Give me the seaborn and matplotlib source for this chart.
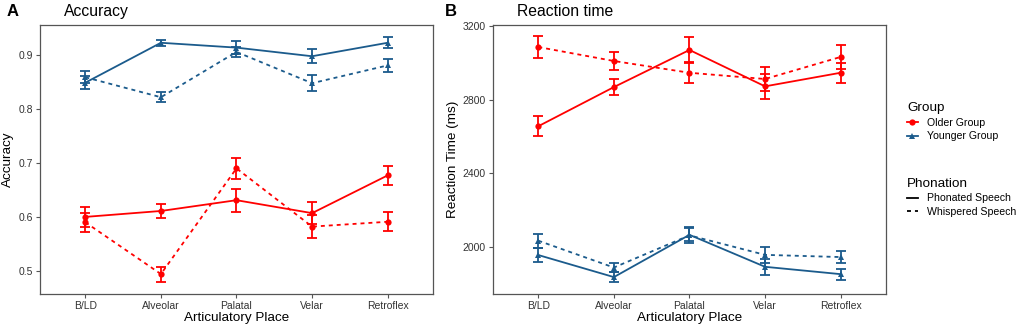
import numpy as np
import pandas as pd
import matplotlib
matplotlib.use("Agg")
import matplotlib.pyplot as plt
from matplotlib.lines import Line2D
import seaborn as sns

# Data
places = ["B/LD", "Alveolar", "Palatal", "Velar", "Retroflex"]
groups = ["Older Group", "Younger Group"]
phonations = ["Phonated Speech", "Whispered Speech"]

# Accuracy (mean, error)
acc_old_phon = [0.600, 0.611, 0.631, 0.607, 0.677]
acc_old_phon_err = [0.018, 0.013, 0.021, 0.021, 0.018]
acc_old_whis = [0.590, 0.494, 0.690, 0.582, 0.591]
acc_old_whis_err = [0.018, 0.014, 0.020, 0.021, 0.018]
acc_young_phon = [0.849, 0.923, 0.914, 0.898, 0.923]
acc_young_phon_err = [0.012, 0.006, 0.012, 0.013, 0.010]
acc_young_whis = [0.859, 0.822, 0.906, 0.848, 0.881]
acc_young_whis_err = [0.011, 0.009, 0.010, 0.015, 0.012]

# Reaction time (ms)
rt_old_phon = [2656, 2869, 3071, 2873, 2947]
rt_old_phon_err = [53, 44, 71, 67, 55]
rt_old_whis = [3087, 3011, 2947, 2913, 3033]
rt_old_whis_err = [58, 49, 58, 65, 65]
rt_young_phon = [1955, 1835, 2065, 1891, 1851]
rt_young_phon_err = [38, 26, 35, 44, 30]
rt_young_whis = [2033, 1887, 2062, 1956, 1944]
rt_young_whis_err = [38, 25, 43, 44, 33]

colors = {"Older Group": "#FF0000", "Younger Group": "#1B5B8C"}
markers = {"Older Group": "o", "Younger Group": "^"}
dashes = {"Phonated Speech": "", "Whispered Speech": (2.2, 2.2)}

plt.rcParams["font.family"] = ["Liberation Sans", "DejaVu Sans"]


def make_df(op, ope, ow, owe, yp, ype, yw, ywe):
    rows = []
    for g, p, vals, errs in [("Older Group", "Phonated Speech", op, ope),
                             ("Older Group", "Whispered Speech", ow, owe),
                             ("Younger Group", "Phonated Speech", yp, ype),
                             ("Younger Group", "Whispered Speech", yw, ywe)]:
        for pl, v, e in zip(places, vals, errs):
            rows.append({"place": pl, "group": g, "phonation": p, "value": v, "err": e})
    return pd.DataFrame(rows)


acc_df = make_df(acc_old_phon, acc_old_phon_err, acc_old_whis, acc_old_whis_err,
                 acc_young_phon, acc_young_phon_err, acc_young_whis, acc_young_whis_err)
rt_df = make_df(rt_old_phon, rt_old_phon_err, rt_old_whis, rt_old_whis_err,
                rt_young_phon, rt_young_phon_err, rt_young_whis, rt_young_whis_err)

fig = plt.figure(figsize=(10.2, 3.3), dpi=100)
axA = fig.add_axes([0.0392, 0.1091, 0.3853, 0.8152])
axB = fig.add_axes([0.4833, 0.1091, 0.3853, 0.8152])

spine_col = "#555555"


def draw(ax, df, ylim, yticks, ylabel):
    for g in groups:
        gdf = df[df["group"] == g]
        sns.lineplot(data=gdf, x="place", y="value", style="phonation",
                     dashes=dashes, color=colors[g], marker=markers[g], sort=False,
                     ax=ax, legend=False, linewidth=1.3, markersize=4.5,
                     markeredgewidth=0, zorder=3)
        for p in phonations:
            sub = gdf[gdf["phonation"] == p]
            ax.errorbar(sub["place"], sub["value"], yerr=sub["err"], fmt="none",
                        ecolor=colors[g], elinewidth=1.3, capsize=3.3, capthick=1.3,
                        zorder=2)
    ax.set_xlim(-0.6, 4.6)
    ax.set_ylim(*ylim)
    ax.set_yticks(yticks)
    ax.set_xlabel("Articulatory Place", fontsize=9.7, color="black", labelpad=1)
    ax.set_ylabel(ylabel, fontsize=9.7, color="black", labelpad=3)
    ax.tick_params(axis="both", labelsize=7.5, colors=spine_col, labelcolor="#333333",
                   length=3, width=0.8, pad=2)
    for s in ax.spines.values():
        s.set_color(spine_col)
        s.set_linewidth(0.9)
    ax.set_facecolor("white")


draw(axA, acc_df, (0.457, 0.956), [0.5, 0.6, 0.7, 0.8, 0.9], "Accuracy")
draw(axB, rt_df, (1743, 3207), [2000, 2400, 2800, 3200], "Reaction Time (ms)")
axA.set_yticklabels(["0.5", "0.6", "0.7", "0.8", "0.9"])

fig.text(0.006, 0.965, "A", fontsize=12, fontweight="bold", va="center")
fig.text(0.063, 0.965, "Accuracy", fontsize=11.3, va="center")
fig.text(0.436, 0.965, "B", fontsize=12, fontweight="bold", va="center")
fig.text(0.507, 0.965, "Reaction time", fontsize=11.3, va="center")

# legends (fig.legend registers each one with the figure)
group_handles = [Line2D([], [], color=colors[g], marker=markers[g], markersize=4.5,
                        markeredgewidth=0, linewidth=1.3) for g in groups]
phon_handles = [Line2D([], [], color="black", linewidth=1.3, linestyle="-"),
                Line2D([], [], color="black", linewidth=1.3, linestyle=(0, (2.2, 2.2)))]
legend_kw = dict(loc="upper left", frameon=False, fontsize=7.6,
                 title_fontproperties={"size": 9.7, "weight": "normal"},
                 handlelength=1.0, handletextpad=0.85, labelspacing=0.35,
                 alignment="left")
fig.legend(group_handles, groups, title="Group",
           bbox_to_anchor=(0.880, 0.72), **legend_kw)
fig.legend(phon_handles, phonations, title="Phonation",
           bbox_to_anchor=(0.880, 0.49), **legend_kw)

fig.savefig("out.png", dpi=100, facecolor="white")
